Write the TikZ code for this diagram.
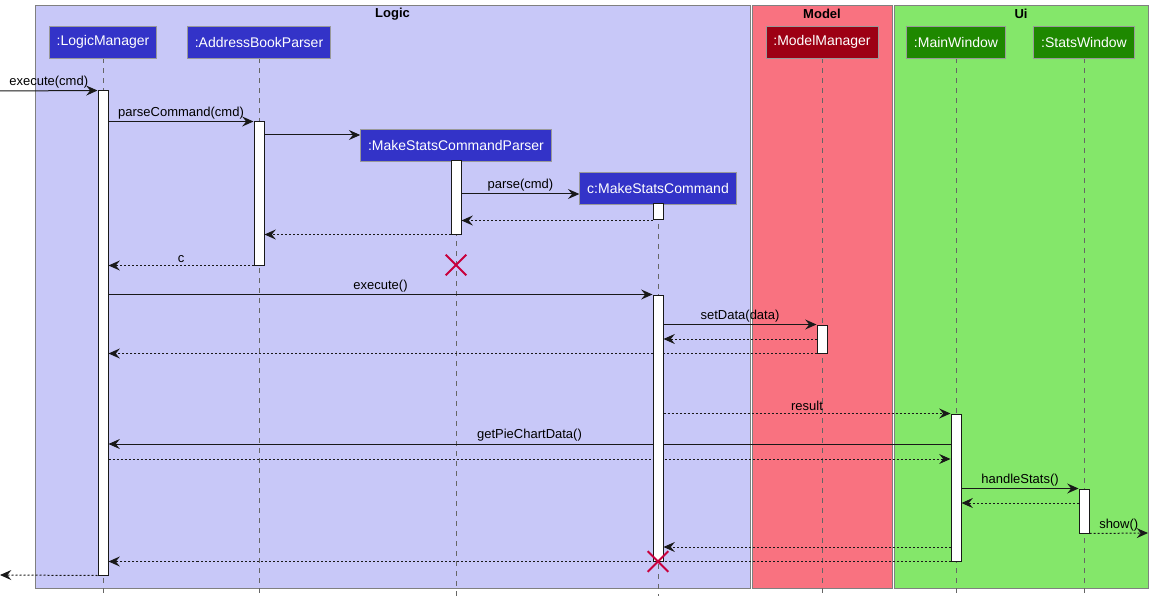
\documentclass[tikz,border=0pt]{standalone}
\usepackage{fontspec}
\setmainfont{Liberation Sans}
\usepackage{tikz}
\usetikzlibrary{arrows.meta,backgrounds,fit,positioning,shapes.misc}
\definecolor{logicbg}{RGB}{200,200,248}
\definecolor{modelbg}{RGB}{249,114,128}
\definecolor{uibg}{RGB}{132,231,106}
\definecolor{logicfg}{RGB}{51,51,200}
\definecolor{modelfg}{RGB}{157,0,20}
\definecolor{uifg}{RGB}{30,136,0}
\definecolor{xred}{RGB}{200,0,60}
\pgfdeclarelayer{msgs}
\pgfsetlayers{background,msgs,main}
\tikzstyle{frame}=[draw=black!50, line width=0.75pt]
\tikzstyle{frametitle}=[font=\fontsize{9.75}{11}\selectfont\bfseries]
\tikzstyle{part}=[rectangle, draw=black!40, line width=0.6pt, text=white, minimum height=24pt, inner xsep=5.6pt, font=\fontsize{10.5}{12}\selectfont]
\tikzstyle{life}=[draw=black!60, line width=0.75pt, dash pattern=on 3.75pt off 3.75pt]
\tikzstyle{act}=[rectangle, draw=black!90, fill=white, line width=0.75pt, inner sep=0pt]
\tikzstyle{msg}=[draw=black!90, line width=0.75pt, -{Stealth[length=8.5pt,width=7.5pt,inset=3pt]}]
\tikzstyle{ret}=[msg, dash pattern=on 1.5pt off 1.5pt]
\tikzstyle{lbl}=[above, inner sep=1.5pt, font=\fontsize{9.75}{11}\selectfont, text=black]
\tikzstyle{kill}=[cross out, draw=xred, line width=1.5pt, minimum size=14pt, inner sep=0pt]

\begin{document}
\begin{tikzpicture}[x=0.75pt,y=-0.75pt]
		\useasboundingbox (0,0) rectangle (1153,599);
		\begin{scope}[on background layer]
			\draw[frame,fill=logicbg] (35,6) rectangle (750,588);
			\draw[frame,fill=modelbg] (752,6) rectangle (892,588);
			\draw[frame,fill=uibg] (894,6) rectangle (1148,588);
		\end{scope}
		\node[frametitle](logicT) at (392.5,14) {Logic};
		\node[frametitle](modelT) at (822,14) {Model};
		\node[frametitle](uiT) at (1021,14) {Ui};
		
		\node[part,fill=logicfg](lm) at (103,42) {:LogicManager};
		\node[part,fill=logicfg](abp) at (259,42) {:AddressBookParser};
		\node[part,fill=logicfg](mscp) at (456,145) {:MakeStatsCommandParser};
		\node[part,fill=logicfg](msc) at (658,188) {c:MakeStatsCommand};
		\node[part,fill=modelfg](mm) at (822,42) {:ModelManager};
		\node[part,fill=uifg](mw) at (956,42) {:MainWindow};
		\node[part,fill=uifg](sw) at (1084,42) {:StatsWindow};
		
		\begin{scope}[on background layer]
			\foreach \p in {lm,abp,mscp,msc,mm,mw,sw}
				\draw[life] (\p.south) -- (\p.south |- 0,596);
		\end{scope}
		
		\node[act,fit={(98,91) (108,575)}](lmA){};
		\node[act,fit={(254,122) (264,265)}](abpA){};
		\node[act,fit={(451,161) (461,234)}](mscpA){};
		\node[act,fit={(653,204) (663,220)}](mscA1){};
		\node[act,fit={(653,295) (663,561)}](mscA2){};
		\node[act,fit={(817,325) (827,353)}](mmA){};
		\node[act,fit={(951,414) (961,561)}](mwA){};
		\node[act,fit={(1079,489) (1089,533)}](swA){};
		
		\coordinate (entry) at (0,91);
		\coordinate (exit) at (0,575);
		\coordinate (showEnd) at (1148,533);
		
		\begin{pgfonlayer}{msgs}
			\draw[msg] (entry) -- node[lbl]{execute(cmd)} (lmA.north west);
			\draw[msg] (lmA.east |- abpA.north) -- node[lbl]{parseCommand(cmd)} (abpA.north west);
			\draw[msg] (abpA.east |- 0,135) -- (mscp.west |- 0,135);
			\draw[msg] (mscpA.east |- 0,194) -- node[lbl]{parse(cmd)} (msc.west |- 0,194);
			\draw[ret] (mscA1.south west) -- (mscpA.east |- mscA1.south);
			\draw[ret] (mscpA.south west) -- (abpA.east |- mscpA.south);
			\draw[ret] (abpA.south west) -- node[lbl]{c} (lmA.east |- abpA.south);
			\draw[msg] (lmA.east |- mscA2.north) -- node[lbl]{execute()} (mscA2.north west);
			\draw[msg] (mscA2.east |- mmA.north) -- node[lbl]{setData(data)} (mmA.north west);
			\draw[ret] (mmA.west |- 0,339) -- (mscA2.east |- 0,339);
			\draw[ret] (mmA.south west) -- (lmA.east |- mmA.south);
			\draw[ret] (mscA2.east |- mwA.north) -- node[lbl]{result} (mwA.north west);
			\draw[msg] (mwA.west |- 0,444) -- node[lbl]{getPieChartData()} (lmA.east |- 0,444);
			\draw[ret] (lmA.east |- 0,459) -- (mwA.west |- 0,459);
			\draw[msg] (mwA.east |- swA.north) -- node[lbl]{handleStats()} (swA.north west);
			\draw[ret] (swA.west |- 0,503) -- (mwA.east |- 0,503);
			\draw[ret] (swA.south east) -- node[lbl]{show()} (showEnd);
			\draw[ret] (mwA.west |- 0,547) -- (mscA2.east |- 0,547);
			\draw[ret] (mwA.south west) -- (lmA.east |- mwA.south);
			\draw[ret] (lmA.south west) -- (exit);
		\end{pgfonlayer}
		
		\node[kill](mscpEnd) at (mscpA.south |- 0,265) {};
		\node[kill](mscEnd) at (mscA2.south) {};
\end{tikzpicture}
\end{document}
